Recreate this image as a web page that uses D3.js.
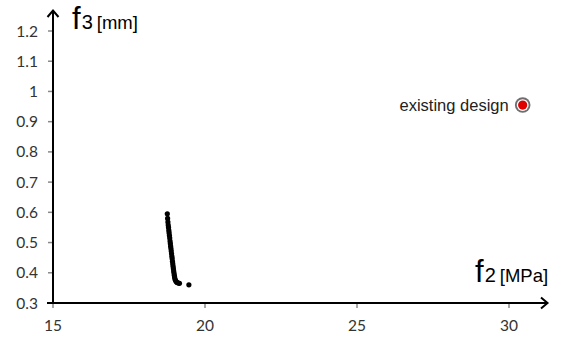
<!DOCTYPE html>
<html>
<head>
<meta charset="utf-8">
<script src="https://cdn.jsdelivr.net/npm/d3@7"></script>
<style>
  body { margin: 0; background: #fff; }
  svg { display: block; }
</style>
</head>
<body>
<script>
// pareto front (f2 in MPa, f3 in mm)
const frontF2 = [18.76, 18.77, 18.78, 18.79, 18.80, 18.81, 18.82, 18.83, 18.84, 18.85,
                 18.86, 18.87, 18.88, 18.89, 18.90, 18.91, 18.92, 18.93, 18.94, 18.95,
                 18.96, 18.97, 18.98, 18.99, 19.00, 19.01, 19.03, 19.05, 19.08, 19.12,
                 19.16, 19.47];
const frontF3 = [0.595, 0.580, 0.568, 0.558, 0.550, 0.540, 0.532, 0.523, 0.515, 0.505,
                 0.497, 0.488, 0.480, 0.472, 0.463, 0.455, 0.447, 0.438, 0.430, 0.422,
                 0.414, 0.406, 0.399, 0.392, 0.386, 0.380, 0.375, 0.371, 0.368, 0.366,
                 0.365, 0.360];
const existing = { f2: 30.45, f3: 0.955, label: "existing design" };

const xTicks = [15, 20, 25, 30];
const yTicks = [0.3, 0.4, 0.5, 0.6, 0.7, 0.8, 0.9, 1, 1.1, 1.2];

const width = 563, height = 338;
const svg = d3.select("body").append("svg")
  .attr("width", width)
  .attr("height", height);

const x = d3.scaleLinear().domain([15, 30]).range([53, 509]);
const y = d3.scaleLinear().domain([0.3, 1.2]).range([303, 31]);

const tickFont = "Lato, 'Open Sans', sans-serif";

// y ticks + labels
svg.selectAll(".ytick").data(yTicks).join("line")
  .attr("x1", 48).attr("x2", 53)
  .attr("y1", d => y(d)).attr("y2", d => y(d))
  .attr("stroke", "#888").attr("stroke-width", 1.5);
svg.selectAll(".ylab").data(yTicks).join("text")
  .attr("x", 38).attr("y", d => y(d) + 5.5)
  .attr("text-anchor", "end")
  .attr("font-family", tickFont).attr("font-size", 15.5)
  .attr("fill", "#333")
  .text(d => d3.format("~g")(d));

// x ticks + labels
svg.selectAll(".xtick").data(xTicks).join("line")
  .attr("x1", d => x(d)).attr("x2", d => x(d))
  .attr("y1", 303).attr("y2", 308)
  .attr("stroke", "#888").attr("stroke-width", 1.5);
svg.selectAll(".xlab").data(xTicks).join("text")
  .attr("x", d => x(d)).attr("y", 331)
  .attr("text-anchor", "middle")
  .attr("font-family", tickFont).attr("font-size", 15.5)
  .attr("fill", "#333")
  .text(d => d);

// axes with arrows
const ax = svg.append("g").attr("stroke", "#000").attr("stroke-width", 2).attr("fill", "none");
ax.append("line").attr("x1", 53).attr("y1", 303).attr("x2", 53).attr("y2", 11);
ax.append("path").attr("d", "M47.5,17 L53,10.5 L58.5,17");
ax.append("line").attr("x1", 47).attr("y1", 303).attr("x2", 547).attr("y2", 303);
ax.append("path").attr("d", "M541,297.5 L547.5,303 L541,308.5");

// axis titles
function axisTitle(tx, ty, sub, unit) {
  const t = svg.append("text").attr("x", tx).attr("y", ty)
    .attr("font-family", "'Liberation Sans', Arial, sans-serif").attr("fill", "#000");
  t.append("tspan").attr("font-size", 31).text("f");
  t.append("tspan").attr("font-size", 20).attr("dx", 1).text(sub);
  t.append("tspan").attr("font-size", 18.5).attr("dx", 4).text(unit);
}
axisTitle(72, 29, "3", "[mm]");
axisTitle(475, 282, "2", "[MPa]");

// pareto front points
svg.append("g").selectAll("circle")
  .data(d3.zip(frontF2, frontF3))
  .join("circle")
  .attr("cx", d => x(d[0]))
  .attr("cy", d => y(d[1]))
  .attr("r", 2.6)
  .attr("fill", "#000");

// existing design
const ex = x(existing.f2), ey = y(existing.f3);
svg.append("circle").attr("cx", ex).attr("cy", ey).attr("r", 7.8).attr("fill", "#6e6e6e");
svg.append("circle").attr("cx", ex).attr("cy", ey).attr("r", 5.9).attr("fill", "#fff");
svg.append("circle").attr("cx", ex).attr("cy", ey).attr("r", 4.6).attr("fill", "#e00000");
svg.append("text")
  .attr("x", ex - 14).attr("y", ey + 5.5)
  .attr("text-anchor", "end")
  .attr("font-family", "'Liberation Sans', Arial, sans-serif")
  .attr("font-size", 16.5)
  .attr("fill", "#222")
  .text(existing.label);
</script>
</body>
</html>
